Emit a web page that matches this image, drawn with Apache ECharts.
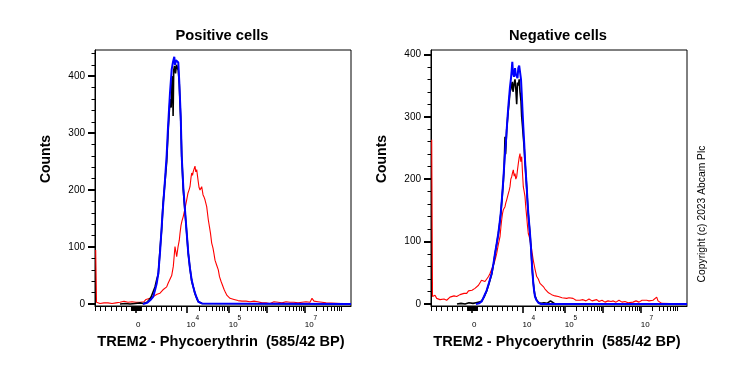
<!DOCTYPE html>
<html>
<head>
<meta charset="utf-8">
<script src="https://cdn.jsdelivr.net/npm/echarts@6/dist/echarts.min.js"></script>
<style>
html,body{margin:0;padding:0;background:#fff;}
#chart{width:739px;height:370px;}
</style>
</head>
<body>
<div id="chart"></div>
<script>
// X values are display channels (0-256) of the biexponential PE axis; Y values are event counts.
const panelTitles = ['Positive cells', 'Negative cells'];
const xAxisTitle = 'TREM2 - Phycoerythrin  (585/42 BP)';
const yAxisTitle = 'Counts';
const copyrightText = 'Copyright (c) 2023 Abcam Plc';

// Tick labels of the biexponential axis
const xLabelValues = [0, 1e4, 1e5, 1e7];
const xLabelTexts = ['{b|0}', '{b|10}{s|4}', '{b|10}{s|5}', '{b|10}{s|7}'];
const yLabelValues = [0, 100, 200, 300, 400];

// Positive cells
const posRed = [[0.7,95],[1.5,3],[3,2],[5,1],[7,3],[9,2],[11,0],[13,2],[15,4],[17,1],[19,3],[21,2],[23,1],[25,3],[27,2],[29,5],[31,2],[33,3],[35,1],[37,4],[39,2],[41,3],[43,5],[45,3],[47,6],[49,4],[51,8],[53,6],[55,10],[57,9],[58.3,13],[60,15],[62,17],[63,19],[65,19],[66.7,22],[68,25],[70,25],[71.7,30],[73,36],[75,36],[76.7,50],[78.3,66],[80,101],[81.7,83],[83,100],[84.3,112],[85,124],[86,138],[87,146],[88.3,154],[89,152],[90,168],[91.7,183],[93,195],[94,200],[95,206],[96,222],[96.7,230],[97.5,226],[98.3,233],[99,236],[100,242],[100.8,232],[101.7,236],[103,218],[104,205],[105,200],[106.7,206],[108,192],[109,188],[110,183],[111.7,171],[113.3,148],[114.5,135],[115.5,124],[116.7,107],[118,98],[119,88],[120,77],[121.7,68],[123.3,60],[124.5,48],[126,40],[127.5,33],[129,26],[130.5,20],[132,15],[133.5,12],[135,10],[137,7],[139,8],[141,5],[143,6],[145,4],[147,5],[149,3],[151,5],[153,2],[155,4],[157,3],[159,5],[161,2],[163,4],[165,3],[167,2],[169,4],[171,2],[173,3],[175,1],[177,3],[179,4],[181,2],[183,3],[185,5],[187,2],[189,3],[191,4],[193,2],[195,3],[197,1],[199,3],[201,5],[203,2],[205,4],[207,3],[209,5],[211,4],[213,7],[215,3],[217,10],[219,5],[221,8],[223,4],[225,6],[227,3],[229,4],[231,2],[233,0],[256,0]];
const posBlack = [[25,0],[30,1],[35,0],[40,1],[45,2],[48,1],[50,2],[52,3],[54,7],[56,12],[58,15],[60,30],[62,45],[63.3,52],[65,95],[66.7,132],[68,175],[70,215],[71.7,250],[73,298],[75,360],[76.2,345],[77,395],[77.6,400],[78.1,330],[78.7,410],[79.5,418],[80.5,405],[81.5,420],[82.5,418],[83.3,410],[84.3,385],[85.7,325],[86.7,260],[88.3,200],[90,162],[91.7,125],[93.3,88],[95,62],[96.7,40],[98.3,30],[100,18],[101.7,10],[103.3,4],[105,2],[107,1],[109,0],[256,0]];
const posBlue = [[48,0],[50,1],[52,2],[54,4],[56,8],[58.3,13],[60,24],[61.7,36],[63.3,54],[65,90],[66.7,136],[68,170],[70,218],[71.7,262],[73,310],[75,371],[76.7,412],[78,425],[79.3,434],[80,420],[81,428],[82,426],[83.3,424],[84.3,389],[85.7,330],[86.7,260],[88.3,205],[90,165],[91.7,125],[93.3,89],[95,62],[96.7,42],[98.3,30],[100,19],[101.7,11],[103.3,4],[105,2],[107,1],[109,0],[256,0]];

// Negative cells
const negRed = [[0.7,263],[1.5,12],[2.3,9],[4,14],[5.7,9],[7.5,12],[9,7],[11,10],[13,8],[15.7,6],[17.5,9],[19,11],[21,8],[23,13],[25.7,12],[27.5,10],[29,15],[31,12],[33,17],[35.7,17],[37.5,21],[39,18],[41,22],[42.3,20],[44,25],[46,22],[47.5,30],[49,33],[50.5,38],[52.3,41],[54,36],[55.7,38],[57.5,44],[59,49],[60.5,52],[62.3,62],[64,70],[65.7,81],[67.3,95],[69,108],[70,125],[70.7,135],[71.5,145],[72.3,151],[73.2,148],[74,156],[74.8,162],[75.7,167],[76.5,170],[77.3,177],[78.2,182],[79,188],[79.8,200],[80.7,204],[81.5,210],[82.3,215],[83.2,205],[84,209],[84.8,200],[85.7,204],[86.5,215],[87.3,225],[88.2,235],[89,241],[89.8,228],[90.7,236],[91.5,210],[92.3,188],[93.2,180],[94,172],[94.8,155],[95.7,140],[96.5,125],[97.3,113],[98.2,108],[99,103],[99.8,95],[100.7,87],[101.5,78],[102.3,70],[104,56],[105.7,44],[107.3,40],[109,33],[110.7,30],[112.3,28],[114,24],[115.7,22],[117.5,18],[119,20],[120.7,15],[122.3,17],[124,13],[125.7,16],[127.3,12],[129,14],[131,10],[133,12],[135.7,9],[138,10],[140,7],[142,9],[145,6],[147,8],[149,6],[152,7],[155,5],[158,8],[161,5],[163,7],[165.7,7],[168,4],[171,6],[174,3],[177,5],[180,4],[182.3,5],[185,3],[188,6],[191,3],[194,4],[197,2],[199,4],[202,3],[205,5],[208,3],[211,6],[213,4],[215.7,6],[218,5],[220,8],[222,6],[224,9],[225.7,11],[227,5],[229,8],[230.7,1],[232,0],[256,0]];
const negBlack = [[26,0],[30,1],[34,0],[38,2],[42,1],[45,2],[48,3],[50.7,5],[53,11],[55.7,21],[58,33],[60.7,48],[62.5,64],[64,80],[65.7,96],[67.3,112],[68.5,127],[69.7,143],[71,168],[72.3,196],[73.2,220],[74,268],[74.6,240],[75.7,280],[76.5,295],[77.3,310],[78.2,325],[79,340],[80,345],[80.7,352],[81.3,356],[82,340],[83,352],[84,360],[84.8,345],[85.7,320],[86.5,355],[87.3,350],[88.2,360],[89,340],[90,325],[90.7,300],[91.5,285],[92.3,268],[93.2,250],[94,228],[95,203],[95.7,186],[96.5,163],[97.3,144],[98.2,127],[99,112],[100,89],[100.7,70],[101.5,50],[102.3,34],[103.2,21],[104,13],[105.5,7],[107.3,3],[110,1],[113,2],[116,1],[118,3],[119.5,5],[121,2],[124,0],[256,0]];
const negBlue = [[45,0],[48,1],[50.7,4],[53,12],[55.7,22],[58,34],[60.7,49],[62.5,65],[64,81],[65.7,97],[67.3,113],[68.5,128],[69.7,145],[71,170],[72.3,199],[73.2,222],[74,241],[75,262],[75.7,279],[76.5,298],[77.3,316],[78.2,333],[79,348],[80,362],[80.7,375],[81.3,388],[82,370],[83,364],[84,378],[84.8,368],[85.7,370],[86.5,362],[87.3,378],[88.2,382],[89,380],[90,360],[90.7,338],[91.5,310],[92.3,284],[93.2,258],[94,231],[95,205],[95.7,188],[96.5,165],[97.3,145],[98.2,128],[99,113],[100,90],[100.7,70],[101.5,50],[102.3,33],[103.2,20],[104,12],[105.5,6],[107.3,2],[110,0],[256,0]];

// ---- axis transform for tick placement (biexponential display) ----
const ZERO_CH = 41;
const DECADE_CH = {4: 91.5, 5: 133.7, 6: 171.7, 7: 209.7, 8: 247.7};
function toChannel(v) {
  if (Math.abs(v) <= 1e4) return ZERO_CH + v * (DECADE_CH[4] - ZERO_CH) / 1e4;
  const l = Math.log10(v), k = Math.floor(l + 1e-9);
  return DECADE_CH[k] + (DECADE_CH[k + 1] - DECADE_CH[k]) * (l - k);
}
const majorVals = [0, 1e4, 1e5, 1e6, 1e7, 1e8];
const minorVals = [];
for (let m = 1; m <= 9; m++) { minorVals.push(m * 100, -m * 100, m * 1000, -m * 1000); }
for (let k = 4; k <= 7; k++) for (let m = 2; m <= 9; m++) minorVals.push(m * Math.pow(10, k));
const inRange = c => c >= 0 && c <= 256;
const xMajorTicks = majorVals.map(toChannel).filter(inRange);
const xMinorTicks = minorVals.map(toChannel).filter(inRange);
const xLabelPos = xLabelValues.map(toChannel);

const FONT = '"Liberation Sans", Arial, Helvetica, sans-serif';
const chart = echarts.init(document.getElementById('chart'), null, {renderer: 'canvas'});

const panels = [
  {left: 95, yMin: -3.5, yMax: 446, red: posRed, black: posBlack, blue: posBlue},
  {left: 431, yMin: -3.2, yMax: 407, red: negRed, black: negBlack, blue: negBlue}
];

const grid = [], xAxis = [], yAxis = [], series = [], graphic = [];
panels.forEach((p, g) => {
  grid.push({left: p.left, top: 50, width: 256, height: 256, show: true,
    borderColor: '#000', borderWidth: 1, backgroundColor: 'transparent'});
  xAxis.push({
    type: 'value', gridIndex: g, min: 0, max: 256, position: 'bottom',
    axisLine: {show: true, onZero: false, lineStyle: {color: '#000', width: 1}},
    splitLine: {show: false},
    axisTick: {show: true, customValues: xMajorTicks, length: 7, lineStyle: {color: '#000', width: 1.6}},
    axisLabel: {
      customValues: xLabelPos, align: 'left', margin: 8.5, color: '#000', fontFamily: FONT,
      formatter: v => { const i = xLabelPos.findIndex(q => Math.abs(q - v) < 1e-6); return i >= 0 ? xLabelTexts[i] : ''; },
      rich: {
        b: {fontSize: 8, fontFamily: FONT, color: '#000', lineHeight: 14, verticalAlign: 'bottom'},
        s: {fontSize: 6.5, fontFamily: FONT, color: '#000', lineHeight: 8, verticalAlign: 'top'}
      }
    }
  });
  xAxis.push({
    type: 'value', gridIndex: g, min: 0, max: 256, position: 'bottom',
    axisLine: {show: false, onZero: false}, splitLine: {show: false},
    axisTick: {show: true, customValues: xMinorTicks, length: 5, lineStyle: {color: '#000', width: 1}},
    axisLabel: {show: false}
  });
  const yTicksMinor = [];
  for (let v = 0; v <= p.yMax; v += 20) yTicksMinor.push(v);
  yAxis.push({
    type: 'value', gridIndex: g, min: p.yMin, max: p.yMax, position: 'left',
    axisLine: {show: true, onZero: false, lineStyle: {color: '#000', width: 1}},
    splitLine: {show: false},
    axisTick: {show: true, customValues: yLabelValues, length: 7, lineStyle: {color: '#000', width: 2}},
    axisLabel: {customValues: yLabelValues, fontSize: 10, fontFamily: FONT, color: '#000', margin: 10}
  });
  yAxis.push({
    type: 'value', gridIndex: g, min: p.yMin, max: p.yMax, position: 'left',
    axisLine: {show: false, onZero: false}, splitLine: {show: false},
    axisTick: {show: true, customValues: yTicksMinor, length: 3.5, lineStyle: {color: '#000', width: 1}},
    axisLabel: {show: false}
  });
  const mk = (data, color, width) => ({
    type: 'line', xAxisIndex: g * 2, yAxisIndex: g * 2, data, showSymbol: false, symbol: 'none',
    lineStyle: {color, width}, itemStyle: {color}, animation: false, silent: true, z: 3
  });
  series.push(mk(p.red, '#ff0000', 1.1), mk(p.black, '#000000', 1.6), mk(p.blue, '#0000ff', 2));

  const cx = p.left + 128;
  graphic.push({type: 'text', x: cx - 1, y: 36, style: {text: panelTitles[g], font: 'bold 14.7px ' + FONT, fill: '#000', textAlign: 'center', textVerticalAlign: 'middle'}});
  graphic.push({type: 'text', x: cx - 2, y: 341.5, style: {text: xAxisTitle, font: 'bold 14.6px ' + FONT, fill: '#000', textAlign: 'center', textVerticalAlign: 'middle'}});
  graphic.push({type: 'text', x: p.left - 49, y: 159, rotation: Math.PI / 2, style: {text: yAxisTitle, font: 'bold 14px ' + FONT, fill: '#000', textAlign: 'center', textVerticalAlign: 'middle'}});
});
graphic.push({type: 'text', x: 702.5, y: 214, rotation: Math.PI / 2, style: {text: copyrightText, font: '10.3px ' + FONT, fill: '#000', textAlign: 'center', textVerticalAlign: 'middle'}});

chart.setOption({
  backgroundColor: '#fff', animation: false,
  grid, xAxis, yAxis, series, graphic
});
</script>
</body>
</html>
